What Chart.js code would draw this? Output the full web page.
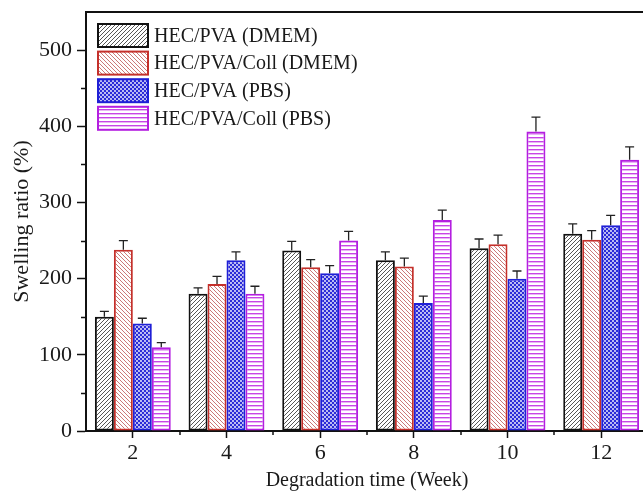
<!DOCTYPE html>
<html>
<head>
<meta charset="utf-8">
<script src="https://cdn.jsdelivr.net/npm/chart.js@4.4.1/dist/chart.umd.min.js"></script>
<style>
  html, body { margin: 0; padding: 0; background: #fff; }
  #wrap { width: 643px; height: 493px; overflow: hidden; position: relative; }
</style>
</head>
<body>
<div id="wrap"><canvas id="chart" width="660" height="493"></canvas></div>
<script>
// data
const weeks = ['2', '4', '6', '8', '10', '12'];
const seriesNames = ['HEC/PVA (DMEM)', 'HEC/PVA/Coll (DMEM)', 'HEC/PVA (PBS)', 'HEC/PVA/Coll (PBS)'];
const hecPvaDmem = [150, 180, 237, 224, 240, 259];
const hecPvaDmemErr = [7, 8, 12, 11, 12, 13];
const hecPvaCollDmem = [238, 193, 215, 216, 245, 251];
const hecPvaCollDmemErr = [12, 10, 10, 11, 12, 12];
const hecPvaPbs = [141, 224, 207, 168, 200, 270];
const hecPvaPbsErr = [7, 11, 10, 9, 10, 13];
const hecPvaCollPbs = [110, 180, 250, 277, 393, 356];
const hecPvaCollPbsErr = [6, 10, 12, 13, 19, 17];
const yTicks = [0, 100, 200, 300, 400, 500];

const FONT = "'Liberation Serif', 'Times New Roman', serif";
const TEXT = '#1a1a1a';

// hatch fills
function makePattern(kind, color) {
  const c = document.createElement('canvas');
  const s = 4;
  c.width = s; c.height = s;
  const g = c.getContext('2d');
  g.fillStyle = '#fff';
  g.fillRect(0, 0, s, s);
  g.strokeStyle = color;
  g.fillStyle = color;
  g.lineWidth = 0.9;
  if (kind === 'fwd') {
    g.beginPath();
    g.moveTo(0, s); g.lineTo(s, 0);
    g.moveTo(-1, 1); g.lineTo(1, -1);
    g.moveTo(s - 1, s + 1); g.lineTo(s + 1, s - 1);
    g.stroke();
  } else if (kind === 'back') {
    g.beginPath();
    g.moveTo(0, 0); g.lineTo(s, s);
    g.moveTo(s - 1, -1); g.lineTo(s + 1, 1);
    g.moveTo(-1, s - 1); g.lineTo(1, s + 1);
    g.stroke();
  } else if (kind === 'dots') {
    g.fillRect(0, 0, s, s);
    g.fillStyle = '#fff';
    g.beginPath(); g.arc(1, 1, 0.9, 0, Math.PI * 2); g.fill();
    g.beginPath(); g.arc(3, 3, 0.9, 0, Math.PI * 2); g.fill();
  } else if (kind === 'horiz') {
    g.fillRect(0, 1, s, 1.4);
  }
  return g.createPattern(c, 'repeat');
}

const borders = ['#111111', '#c4302b', '#1f1fd6', '#b41fe0'];
const fills = [
  makePattern('fwd', '#444444'),
  makePattern('back', '#c56a6a'),
  makePattern('dots', '#2b2bd8'),
  makePattern('horiz', '#c845e6')
];
const values = [hecPvaDmem, hecPvaCollDmem, hecPvaPbs, hecPvaCollPbs];
const errors = [hecPvaDmemErr, hecPvaCollDmemErr, hecPvaPbsErr, hecPvaCollPbsErr];

const datasets = seriesNames.map((name, i) => ({
  label: name,
  data: values[i],
  backgroundColor: fills[i],
  borderColor: borders[i],
  borderWidth: 2,
  borderSkipped: false
}));

// upper error bars, minor ticks, top frame and the inset legend
const extras = {
  id: 'extras',
  afterDatasetsDraw(chart) {
    const ctx = chart.ctx;
    const y = chart.scales.y;
    ctx.save();
    ctx.strokeStyle = '#222';
    ctx.lineWidth = 1.3;
    chart.data.datasets.forEach((ds, i) => {
      chart.getDatasetMeta(i).data.forEach((bar, j) => {
        const top = y.getPixelForValue(ds.data[j] + errors[i][j]);
        ctx.beginPath();
        ctx.moveTo(bar.x, bar.y);
        ctx.lineTo(bar.x, top);
        ctx.moveTo(bar.x - 4.5, top);
        ctx.lineTo(bar.x + 4.5, top);
        ctx.stroke();
      });
    });
    ctx.restore();
  },
  afterDraw(chart) {
    const ctx = chart.ctx;
    const { left, right, top, bottom } = chart.chartArea;
    const x = chart.scales.x;
    const y = chart.scales.y;
    ctx.save();
    ctx.strokeStyle = '#111';
    ctx.lineWidth = 2;
    ctx.beginPath();
    ctx.moveTo(left - 1, top);
    ctx.lineTo(right + 10, top);
    ctx.stroke();

    // minor ticks
    ctx.lineWidth = 1.5;
    ctx.beginPath();
    for (let v = 50; v < 550; v += 100) {
      const py = Math.round(y.getPixelForValue(v)) + 0.5;
      ctx.moveTo(left, py);
      ctx.lineTo(left - 5, py);
    }
    for (let k = 0; k < weeks.length; k++) {
      const px = Math.round((x.getPixelForValue(k) + x.getPixelForValue(k + 1)) / 2);
      ctx.moveTo(px, bottom);
      ctx.lineTo(px, bottom + 4);
    }
    ctx.stroke();

    // legend
    const bx = 98, bw = 50, bh = 23, step = 27.6;
    ctx.font = '20px ' + FONT;
    ctx.textBaseline = 'middle';
    ctx.textAlign = 'left';
    chart.data.datasets.forEach((ds, i) => {
      const by = 24 + i * step;
      ctx.fillStyle = ds.backgroundColor;
      ctx.fillRect(bx, by, bw, bh);
      ctx.strokeStyle = ds.borderColor;
      ctx.lineWidth = 2;
      ctx.strokeRect(bx, by, bw, bh);
      ctx.fillStyle = TEXT;
      ctx.fillText(ds.label, bx + 56, by + bh / 2 + 1);
    });
    ctx.restore();
  }
};

new Chart(document.getElementById('chart'), {
  type: 'bar',
  data: { labels: weeks, datasets },
  options: {
    responsive: false,
    animation: false,
    devicePixelRatio: 1,
    layout: { padding: { left: 0, top: 12, right: 12, bottom: 0 } },
    datasets: { bar: { categoryPercentage: 0.81, barPercentage: 1.0 } },
    plugins: { legend: { display: false }, tooltip: { enabled: false } },
    scales: {
      x: {
        offset: true,
        grid: { offset: false, drawOnChartArea: false, drawTicks: true, tickLength: 7, tickWidth: 1.5, tickColor: '#111' },
        border: { color: '#111', width: 2 },
        ticks: { color: TEXT, font: { family: FONT, size: 22 }, padding: 2, maxRotation: 0 },
        title: { display: true, text: 'Degradation time (Week)', color: TEXT, font: { family: FONT, size: 20 }, padding: { top: 0, bottom: 0 } },
        afterFit(scale) {
          scale.height = 62;
          scale.paddingLeft = 0;
          scale.paddingRight = 0;
        }
      },
      y: {
        min: 0,
        max: 550,
        grid: { drawOnChartArea: false, drawTicks: true, tickLength: 9, tickWidth: 1.5, tickColor: '#111' },
        border: { color: '#111', width: 2 },
        afterBuildTicks(scale) { scale.ticks = yTicks.map(v => ({ value: v })); },
        ticks: { color: TEXT, font: { family: FONT, size: 22 }, padding: 5 },
        title: { display: true, text: 'Swelling ratio (%)', color: TEXT, font: { family: FONT, size: 22 }, padding: { top: 9, bottom: 0 } },
        afterFit(scale) {
          scale.width = 86;
          scale.paddingTop = 0;
          scale.paddingBottom = 0;
        }
      }
    }
  },
  plugins: [extras]
});
</script>
</body>
</html>
